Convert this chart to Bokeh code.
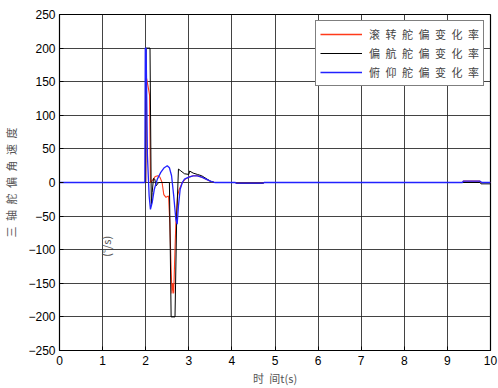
import math
from bokeh.plotting import figure
from bokeh.models import Legend, LegendItem, Label, FixedTicker, Range1d
from bokeh.embed import file_html
from bokeh.resources import INLINE

# ---- data ----
roll_t = [0, 2.0, 2.02, 2.05, 2.09, 2.11, 2.14, 2.18, 2.22, 2.28, 2.33, 2.38, 2.42, 2.47, 2.53,
          2.56, 2.59, 2.61, 2.63, 2.65, 2.67, 2.70, 2.74, 2.78, 2.85, 2.92, 3.0, 3.1, 3.2, 3.3,
          3.4, 3.5, 3.6, 4.08, 4.1, 4.72, 4.75, 9.35, 9.37, 9.75, 9.78, 10]
roll_v = [0, 0, 155, 145, 130, 0, 2, 5, 9, 10, 8, 0, -18, -22, -20,
          -60, -130, -165, -150, -165, -120, -60, -20, -10, 0, 5, 8, 10, 10, 8,
          5, 2, 0, 0, -1, -1, 0, 0, 2, 2, 0, 0]

yaw_t = [0, 2.0, 2.01, 2.10, 2.13, 2.15, 2.18, 2.21, 2.24, 2.3, 2.5, 2.55, 2.59, 2.68, 2.72,
         2.76, 2.8, 2.9, 3.0, 3.02, 3.1, 3.2, 3.3, 3.4, 3.5, 3.6, 4.08, 4.1, 4.72, 4.75,
         9.75, 9.78, 10]
yaw_v = [0, 0, 200, 200, -35, -15, 6, 5, -5, 0, 0, 0, -200, -200, -50,
         20, 18, 13, 12, 17, 14, 12, 10, 6, 2, 0, 0, -1, -1, 0,
         0, -2, -2]

pitch_t = [0, 1.98, 1.99, 2.01, 2.04, 2.08, 2.11, 2.15, 2.2, 2.27, 2.35, 2.43, 2.5, 2.55, 2.6,
           2.65, 2.7, 2.73, 2.76, 2.8, 2.85, 2.9, 3.0, 3.1, 3.2, 3.3, 3.4, 3.5, 3.6,
           4.08, 4.1, 4.72, 4.75, 9.35, 9.37, 9.75, 9.8, 10]
pitch_v = [0, 0, 200, 200, 40, -20, -40, -30, -10, 5, 15, 22, 25, 22, 10,
           -20, -55, -62, -35, -10, 0, 5, 8, 10, 10, 8, 5, 2, 0,
           0, -1, -1, 0, 0, 2, 2, 0, 0]

x_ticks = [0, 1, 2, 3, 4, 5, 6, 7, 8, 9, 10]
y_ticks = [-250, -200, -150, -100, -50, 0, 50, 100, 150, 200, 250]
SP = "\u2002"
legend_labels = [SP.join("滚转舵偏变化率"), SP.join("偏航舵偏变化率"), SP.join("俯仰舵偏变化率")]
y_label = SP.join("三轴舵偏角速度")
x_label = "时" + SP + "间t(s)"
colors = ["#ff3a1a", "black", "#2222ff"]

p = figure(width=498, height=388, output_backend="svg", toolbar_location=None,
           x_range=Range1d(0, 10), y_range=Range1d(-250, 250),
           min_border_left=59, min_border_right=8, min_border_top=14, min_border_bottom=36)

p.outline_line_color = "black"
p.outline_line_width = 1.2

for ax, ticks in ((p.xaxis, x_ticks), (p.yaxis, y_ticks)):
    ax.ticker = FixedTicker(ticks=ticks)
    ax.major_tick_in = 4
    ax.major_tick_out = 0
    ax.minor_tick_line_color = None
    ax.axis_line_color = "black"
    ax.major_tick_line_color = "black"
    ax.major_label_text_font = "Liberation Sans"
    ax.major_label_text_font_size = "12px"
    ax.major_label_text_color = "black"
    ax.axis_label_text_font = "Noto Sans CJK SC"
    ax.axis_label_text_font_size = "11px"
    ax.axis_label_text_font_style = "normal"
    ax.axis_label_text_color = "#555555"

p.xaxis.axis_label = x_label
p.xaxis.axis_label_standoff = 2
p.xaxis.major_label_standoff = 5
p.yaxis.axis_label = y_label
p.yaxis.axis_label_standoff = 6
p.yaxis.major_label_standoff = 4

for g in (p.xgrid, p.ygrid):
    g.grid_line_color = "#222222"
    g.grid_line_alpha = 0.85
    g.grid_line_width = 1

r_roll = p.line(roll_t, roll_v, line_color=colors[0], line_width=1.1)
r_yaw = p.line(yaw_t, yaw_v, line_color=colors[1], line_width=1)
r_pitch = p.line(pitch_t, pitch_v, line_color=colors[2], line_width=1.3)

# legend-key renderers: a single point each, which draws no visible line on the plot
keys = [p.line(roll_t[:1], roll_v[:1], line_color=c, line_width=w)
        for c, w in zip(colors, [1.6, 1.2, 1.6])]

legend = Legend(items=[LegendItem(label=lab, renderers=[k]) for lab, k in zip(legend_labels, keys)],
                location="top_right")
legend.border_line_color = "black"
legend.border_line_width = 1
legend.background_fill_alpha = 1
legend.label_text_font = "Noto Sans CJK SC"
legend.label_text_font_size = "11px"
legend.label_text_color = "#444444"
legend.glyph_width = 42
legend.glyph_height = 18
legend.label_height = 18
legend.spacing = 1
legend.padding = 4
legend.margin = 6
legend.label_standoff = 7
p.add_layout(legend, "center")

unit = Label(x=1.08, y=-95, text="(°/s)", angle=math.pi / 2, text_align="center",
             text_baseline="middle", text_font="Noto Sans CJK SC", text_font_size="11px",
             text_color="#555555")
p.add_layout(unit)

open("out.html", "w").write(file_html(p, INLINE))
